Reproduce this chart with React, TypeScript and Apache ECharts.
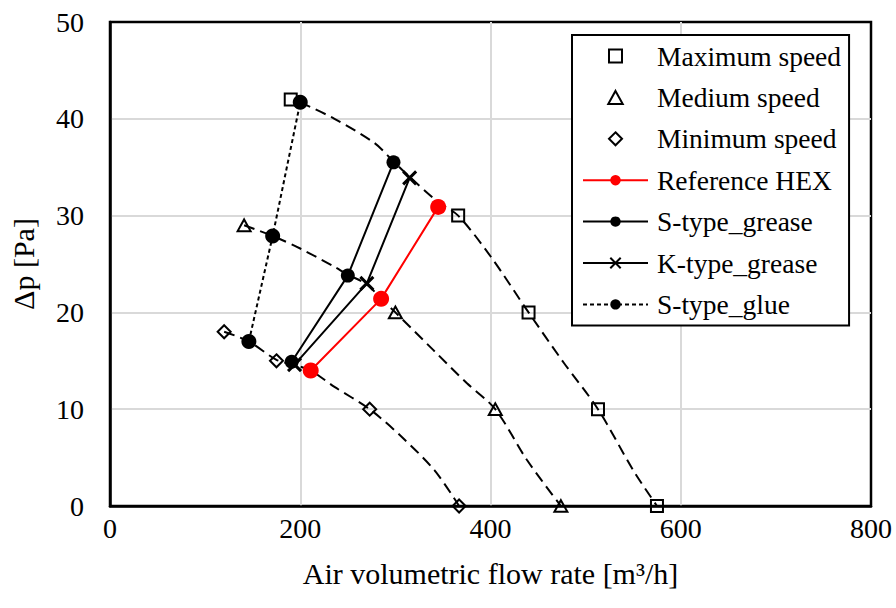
import React, { useEffect, useRef } from "react";
import * as echarts from "echarts";

// Fan curve measurement markers [flow rate m3/h, pressure drop Pa]
const maximumSpeed: [number, number][] = [[190, 42], [366, 30], [440, 20], [513, 10], [575, 0]];
const mediumSpeed: [number, number][] = [[141, 29], [300, 20], [405, 10], [474, 0]];
const minimumSpeed: [number, number][] = [[120, 18], [175, 15], [273, 10], [367, 0]];

// Dashed fan curves
const maximumCurve: [number, number][] = [
  [200, 41.7], [236, 40], [278, 37.5], [298, 35.6], [315, 34], [345, 31.4], [366, 30],
  [400, 25.8], [440, 20], [477, 14.8], [513, 10], [550, 3.7], [575, 0],
];
const mediumCurve: [number, number][] = [
  [141, 29], [171, 27.9], [200, 26.6], [236, 24.7], [250, 23.9], [270, 22.9], [285, 21.4],
  [300, 20], [340, 16.1], [375, 12.7], [405, 10], [438, 4.8], [474, 0],
];
const minimumCurve: [number, number][] = [
  [120, 18], [146, 17], [175, 15.1], [193, 14.6], [211, 14], [236, 12.3], [273, 10],
  [306, 7.2], [341, 3.7], [367, 0],
];

// Heat exchanger operating points
const referenceHex: [number, number][] = [[211, 14], [285, 21.4], [345, 30.9]];
const sTypeGrease: [number, number][] = [[191, 14.9], [250, 23.8], [298, 35.5]];
const kTypeGrease: [number, number][] = [[194, 14.6], [270, 23], [315, 33.9]];
const sTypeGlue: [number, number][] = [[146, 17], [171, 27.9], [200, 41.7]];

const xTicks = { min: 0, max: 800, interval: 200 };
const yTicks = { min: 0, max: 50, interval: 10 };

const FONT = "'Liberation Serif', 'Times New Roman', 'DejaVu Serif', serif";

const SQUARE = "path://M0,0H10V10H0Z";
const TRIANGLE = "path://M5,0L10,9H0Z";
const DIAMOND = "path://M5,0L10,5L5,10L0,5Z";
const CROSS = "path://M0,0L10,10M10,0L0,10";

export default function App() {
  const ref = useRef<HTMLDivElement>(null);
  useEffect(() => {
    if (!ref.current) return;
    const chart = echarts.init(ref.current, null, { renderer: "svg" });
    const curve = (name: string, data: [number, number][]) => ({
      name,
      type: "line",
      data,
      smooth: 0.3,
      showSymbol: false,
      symbol: "none",
      silent: true,
      z: 1,
      lineStyle: { color: "#000", width: 2, type: [11, 6] },
    });
    const marker = (name: string, data: [number, number][], symbol: string, size: number) => ({
      name,
      type: "scatter",
      data,
      symbol,
      symbolSize: size,
      symbolKeepAspect: true,
      z: 5,
      itemStyle: { color: "rgba(255,255,255,0)", borderColor: "#000", borderWidth: 2, opacity: 1 },
    });
    chart.setOption({
      animation: false,
      backgroundColor: "#fff",
      textStyle: { fontFamily: FONT },
      grid: {
        left: 109,
        right: 25,
        top: 22,
        bottom: 102,
        show: true,
        borderColor: "#000",
        borderWidth: 2.5,
        backgroundColor: "transparent",
      },
      xAxis: {
        type: "value",
        min: xTicks.min,
        max: xTicks.max,
        interval: xTicks.interval,
        name: "Air volumetric flow rate [m³/h]",
        nameLocation: "middle",
        nameGap: 52,
        nameTextStyle: { fontFamily: FONT, fontSize: 30, color: "#000" },
        axisLine: { show: true, lineStyle: { color: "#000", width: 2.5 } },
        axisTick: { show: false },
        axisLabel: { fontFamily: FONT, fontSize: 28, color: "#000", margin: 8 },
        splitLine: { show: true, showMinLine: false, showMaxLine: false, lineStyle: { color: "#d9d9d9", width: 2 } },
      },
      yAxis: {
        type: "value",
        min: yTicks.min,
        max: yTicks.max,
        interval: yTicks.interval,
        name: "Δp [Pa]",
        nameLocation: "middle",
        nameGap: 72,
        nameTextStyle: { fontFamily: FONT, fontSize: 30, color: "#000" },
        axisLine: { show: true, lineStyle: { color: "#000", width: 2.5 } },
        axisTick: { show: false },
        axisLabel: { fontFamily: FONT, fontSize: 28, color: "#000", margin: 26 },
        splitLine: { show: true, showMinLine: false, showMaxLine: false, lineStyle: { color: "#d9d9d9", width: 2 } },
      },
      legend: {
        orient: "vertical",
        left: 572,
        top: 35,
        padding: [6, 8, 6, 10],
        itemGap: 11.4,
        itemWidth: 65,
        itemHeight: 13,
        symbolKeepAspect: true,
        backgroundColor: "#fff",
        borderColor: "#000",
        borderWidth: 2,
        borderRadius: 0,
        textStyle: { fontFamily: FONT, fontSize: 27.5, color: "#000", lineHeight: 30, padding: [0, 0, 0, 4] },
        data: [
          { name: "Maximum speed", icon: SQUARE, itemStyle: { borderWidth: 2, opacity: 1 } },
          { name: "Medium speed", icon: TRIANGLE, itemStyle: { borderWidth: 2, opacity: 1 } },
          { name: "Minimum speed", icon: DIAMOND, itemStyle: { borderWidth: 2, opacity: 1 } },
          "Reference HEX",
          "S-type_grease",
          "K-type_grease",
          "S-type_glue",
        ],
      },
      series: [
        curve("max-curve", maximumCurve),
        curve("med-curve", mediumCurve),
        curve("min-curve", minimumCurve),
        marker("Maximum speed", maximumSpeed, SQUARE, 12),
        marker("Medium speed", mediumSpeed, TRIANGLE, 13),
        marker("Minimum speed", minimumSpeed, DIAMOND, 13),
        {
          name: "Reference HEX",
          type: "line",
          data: referenceHex,
          symbol: "circle",
          symbolSize: 16,
          z: 4,
          itemStyle: { color: "#ff0000" },
          lineStyle: { color: "#ff0000", width: 2 },
        },
        {
          name: "S-type_grease",
          type: "line",
          data: sTypeGrease,
          symbol: "circle",
          symbolSize: 14,
          z: 4,
          itemStyle: { color: "#000" },
          lineStyle: { color: "#000", width: 2 },
        },
        {
          name: "K-type_grease",
          type: "line",
          data: kTypeGrease,
          symbol: CROSS,
          symbolSize: 13,
          z: 4,
          itemStyle: { color: "#000", borderColor: "#000", borderWidth: 3 },
          lineStyle: { color: "#000", width: 2 },
        },
        {
          name: "S-type_glue",
          type: "line",
          data: sTypeGlue,
          symbol: "circle",
          symbolSize: 15,
          z: 4,
          itemStyle: { color: "#000" },
          lineStyle: { color: "#000", width: 2, type: [4, 3] },
        },
      ],
    });
    return () => chart.dispose();
  }, []);
  return (
    <div
      ref={ref}
      style={{ position: "fixed", left: 0, top: 0, width: 896, height: 608 }}
    />
  );
}
